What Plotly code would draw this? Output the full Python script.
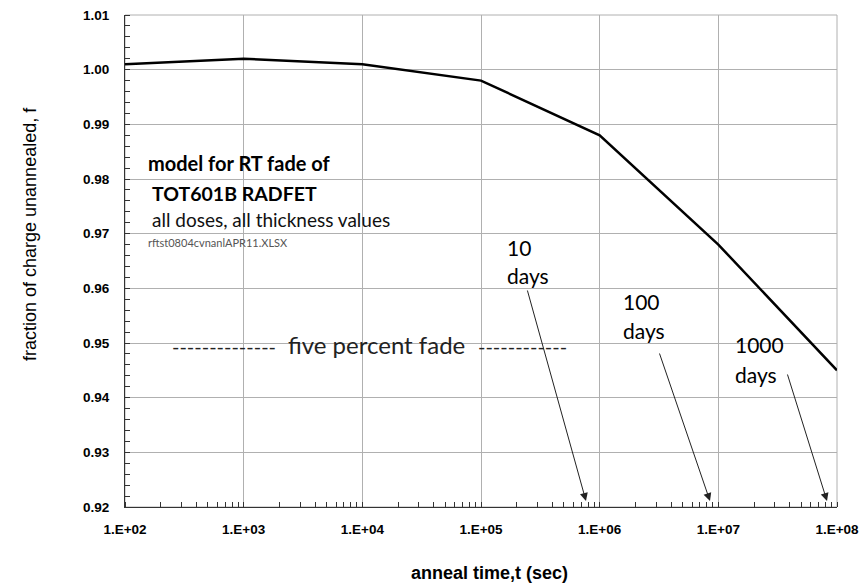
import plotly.graph_objects as go

# ---- data ----
anneal_time_s = [1e2, 1e3, 1e4, 1e5, 1e6, 1e7, 1e8]
fraction_unannealed = [1.001, 1.002, 1.001, 0.998, 0.988, 0.968, 0.945]
x_tickvals = [1e2, 1e3, 1e4, 1e5, 1e6, 1e7, 1e8]
x_ticktext = ["1.E+02", "1.E+03", "1.E+04", "1.E+05", "1.E+06", "1.E+07", "1.E+08"]
y_tickvals = [0.92, 0.93, 0.94, 0.95, 0.96, 0.97, 0.98, 0.99, 1.00, 1.01]

W, H = 861, 588
L, R, T, B = 125, 837, 15, 507


def px(x):
    return (x - L) / (R - L)


def py(y):
    return (B - y) / (B - T)


fig = go.Figure()
fig.add_trace(go.Scatter(
    x=anneal_time_s, y=fraction_unannealed, mode="lines",
    line=dict(color="black", width=2.5), showlegend=False, hoverinfo="skip"))

CAL = "Lato, Open Sans, sans-serif"
ARI = "Liberation Sans, Arial, sans-serif"

ann = []


def txt(x, y, s, size, bold=False, color="black", xanchor="left", family=CAL, angle=0):
    ann.append(dict(x=px(x), y=py(y), xref="paper", yref="paper", text=("<b>%s</b>" % s) if bold else s,
                    showarrow=False, xanchor=xanchor, yanchor="middle", textangle=angle,
                    font=dict(family=family, size=size, color=color)))


txt(146, 163, "model for RT fade of", 20, bold=True)
txt(150, 193, "TOT601B RADFET", 19.5, bold=True)
txt(150, 219, "all doses, all thickness values", 19, color="#111111")
txt(146, 242, "rftst0804cvnanlAPR11.XLSX", 11, color="#555555")

txt(170, 346, "--------------", 20, color="#222222")
txt(376, 345, "five percent fade", 24, color="#222222", xanchor="center")
txt(476, 346, "------------", 20, color="#222222")

txt(505, 247, "10", 21)
txt(505, 275, "days", 21)
txt(621, 301, "100", 21)
txt(621, 330, "days", 21)
txt(733, 345, "1000", 21)
txt(733, 374, "days", 21)

# axis titles
txt(30, 234, "fraction of charge unannealed, f", 18, xanchor="center", family=ARI, angle=-90)
txt(489, 573, "anneal time,t (sec)", 18, bold=True, xanchor="center", family=ARI)

# arrows: (tail, head) in pixels
arrows = [((527, 289), (586, 501)), ((659, 352), (710, 501)), ((787, 373), (827, 501))]
for (tx, ty), (hx, hy) in arrows:
    ann.append(dict(x=px(hx), y=py(hy), xref="paper", yref="paper", ax=tx - hx, ay=ty - hy,
                    axref="pixel", ayref="pixel", showarrow=True, arrowhead=2, arrowsize=1.6,
                    arrowwidth=1, arrowcolor="#222222", text=""))

fig.update_layout(
    width=W, height=H, margin=dict(l=L, r=W - R, t=T, b=H - B, autoexpand=False),
    paper_bgcolor="white", plot_bgcolor="white",
    annotations=ann,
    shapes=[dict(type="rect", xref="paper", yref="paper", x0=0, x1=1, y0=0, y1=1,
                 line=dict(color="#b0b0b0", width=1), layer="below")],
    xaxis=dict(type="log", range=[2, 8], tickvals=x_tickvals, ticktext=x_ticktext,
               showgrid=True, gridcolor="#b0b0b0", gridwidth=1, automargin=False,
               showline=True, linecolor="#333333", linewidth=1.2, ticks="",
               ticklabelstandoff=10,
               tickfont=dict(family=ARI, size=13.5, color="black", weight="bold"),
               minor=dict(ticks="inside", ticklen=5, tickcolor="#333333", dtick="D1", showgrid=False),
               zeroline=False),
    yaxis=dict(range=[0.92, 1.01], tickvals=y_tickvals, tickformat=".2f",
               showgrid=True, gridcolor="#b0b0b0", gridwidth=1, automargin=False,
               showline=True, linecolor="#333333", linewidth=1.2, ticks="",
               ticklabelstandoff=12,
               tickfont=dict(family=ARI, size=13.5, color="black", weight="bold"),
               minor=dict(ticks="inside", ticklen=5, tickcolor="#333333", dtick=0.002, showgrid=False),
               zeroline=False),
)

fig.write_html("out.html", config={"displayModeBar": False},
               post_script="document.body.style.margin='0';")
